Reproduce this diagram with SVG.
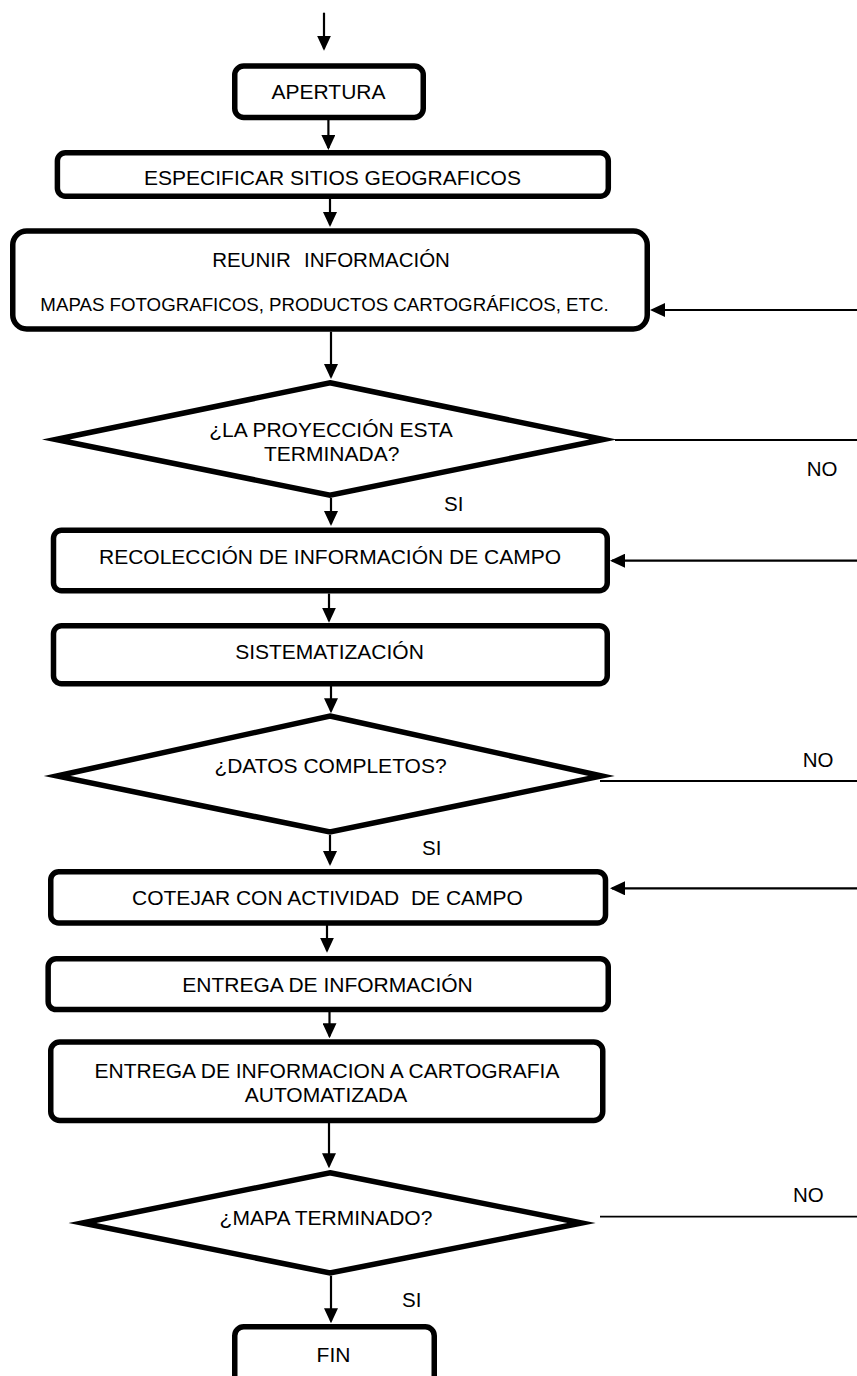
<svg xmlns="http://www.w3.org/2000/svg" width="857" height="1376" viewBox="0 0 857 1376">
<style>
.box{fill:#fff;stroke:#000;stroke-width:5.5}
.dia{fill:#fff;stroke:#000;stroke-width:5.5;stroke-linejoin:miter;stroke-miterlimit:8}
.t{font-family:"Liberation Sans",Arial,sans-serif;font-size:21px;fill:#000;text-anchor:middle}
.s{font-size:18.7px}
.m{font-size:20.5px}
.lbl{font-family:"Liberation Sans",Arial,sans-serif;font-size:20.5px;fill:#000}
.c{fill:none;stroke:#000;stroke-width:2.2}
.l{fill:none;stroke:#000;stroke-width:1.8}
</style>
<defs>
<marker id="ah" viewBox="0 0 15 14" refX="13" refY="7" markerWidth="15" markerHeight="14" markerUnits="userSpaceOnUse" orient="auto">
<path d="M0,0 L15,7 L0,14 z" fill="#000"/>
</marker>
</defs>
<rect width="857" height="1376" fill="#fff"/>
<g id="connectors">
<path class="c" d="M324,12.7 V48.7" marker-end="url(#ah)"/>
<path class="c" d="M328.4,120 V148" marker-end="url(#ah)"/>
<path class="c" d="M330,199 V225" marker-end="url(#ah)"/>
<path class="c" d="M331,331.7 V377" marker-end="url(#ah)"/>
<path class="c" d="M331,498 V524" marker-end="url(#ah)"/>
<path class="c" d="M329,593.5 V620.7" marker-end="url(#ah)"/>
<path class="c" d="M331,682 V711.3" marker-end="url(#ah)"/>
<path class="c" d="M330,835 V864" marker-end="url(#ah)"/>
<path class="c" d="M327,920 V950.7" marker-end="url(#ah)"/>
<path class="c" d="M329.5,1006 V1036.3" marker-end="url(#ah)"/>
<path class="c" d="M329,1117 V1166.3" marker-end="url(#ah)"/>
<path class="c" d="M331,1275.7 V1321.3" marker-end="url(#ah)"/>
<path class="c" d="M857,310 H652" marker-end="url(#ah)"/>
<path class="c" d="M857,560.7 H612" marker-end="url(#ah)"/>
<path class="c" d="M857,888.3 H612" marker-end="url(#ah)"/>
<path class="l" d="M615,440 H857"/>
<path class="l" d="M600,781 H857"/>
<path class="l" d="M600,1216.7 H857"/>
</g>
<g id="n-apertura">
<rect class="box" x="234.75" y="66" width="188.5" height="51.5" rx="9"/>
<text class="t" x="328.5" y="99.3">APERTURA</text>
</g>
<g id="n-especificar">
<rect class="box" x="57.4" y="152.75" width="550.9" height="43.5" rx="8"/>
<text class="t" x="332.5" y="185">ESPECIFICAR SITIOS GEOGRAFICOS</text>
</g>
<g id="n-reunir">
<rect class="box" x="12.75" y="231" width="634.5" height="98" rx="14"/>
<text class="t m" x="331" y="266.7" xml:space="preserve" word-spacing="1">REUNIR  INFORMACIÓN</text>
<text class="t s" x="324.5" y="310.7">MAPAS FOTOGRAFICOS, PRODUCTOS CARTOGRÁFICOS, ETC.</text>
</g>
<g id="n-proyeccion">
<polygon class="dia" points="330,382.8 603.3,439.5 330,495.2 55.7,439.5"/>
<text class="t" x="331" y="437">¿LA PROYECCIÓN ESTA</text>
<text class="t" x="331.7" y="461">TERMINADA?</text>
</g>
<g id="n-recoleccion">
<rect class="box" x="53.5" y="530.25" width="553.75" height="60.5" rx="8"/>
<text class="t" x="330" y="564">RECOLECCIÓN DE INFORMACIÓN DE CAMPO</text>
</g>
<g id="n-sistematizacion">
<rect class="box" x="53.5" y="625.75" width="553.75" height="58" rx="8"/>
<text class="t" x="329.5" y="659.3">SISTEMATIZACIÓN</text>
</g>
<g id="n-datos">
<polygon class="dia" points="330,716 601.6,776 330,832 57,776"/>
<text class="t" x="330.5" y="773.3">¿DATOS COMPLETOS?</text>
</g>
<g id="n-cotejar">
<rect class="box" x="50.75" y="871.75" width="554.75" height="51.2" rx="8"/>
<text class="t" x="327.5" y="905" xml:space="preserve">COTEJAR CON ACTIVIDAD  DE CAMPO</text>
</g>
<g id="n-entrega">
<rect class="box" x="48.15" y="958.75" width="560.1" height="50.8" rx="8"/>
<text class="t" x="327.5" y="991.7">ENTREGA DE INFORMACIÓN</text>
</g>
<g id="n-entrega-carto">
<rect class="box" x="50.75" y="1042" width="552" height="78.5" rx="9"/>
<text class="t" x="327" y="1078">ENTREGA DE INFORMACION A CARTOGRAFIA</text>
<text class="t" x="326" y="1102">AUTOMATIZADA</text>
</g>
<g id="n-mapa">
<polygon class="dia" points="330,1172.8 581.6,1223 330,1273 82.3,1223"/>
<text class="t" x="326" y="1225">¿MAPA TERMINADO?</text>
</g>
<g id="n-fin">
<rect class="box" x="234.75" y="1326.75" width="199.5" height="70" rx="9"/>
<text class="t" x="333.5" y="1361.7">FIN</text>
</g>
<g id="labels">
<text class="lbl" x="806.7" y="476">NO</text>
<text class="lbl" x="444" y="510.7">SI</text>
<text class="lbl" x="802.7" y="766.7">NO</text>
<text class="lbl" x="422" y="855">SI</text>
<text class="lbl" x="793" y="1201.7">NO</text>
<text class="lbl" x="402" y="1306.7">SI</text>
</g>
</svg>
